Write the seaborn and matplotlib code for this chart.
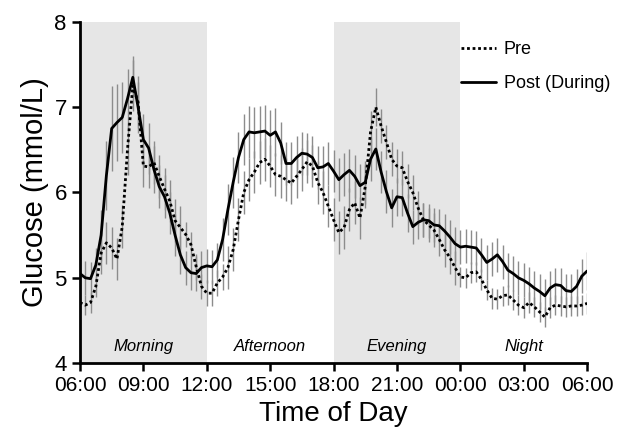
import numpy as np
import pandas as pd
import matplotlib
matplotlib.use("Agg")
import matplotlib.pyplot as plt
import seaborn as sns

# hours after 06:00, 15-min readings (06:00 -> 06:00 next day)
hours = np.arange(97) * 0.25

post_mean = [5.05, 5.00, 4.99, 5.15, 5.50, 6.20, 6.75, 6.82, 6.88, 7.10, 7.35, 7.00,
             6.62, 6.52, 6.27, 6.07, 5.95, 5.76, 5.50, 5.27, 5.12, 5.06, 5.05, 5.12,
             5.14, 5.13, 5.21, 5.45, 5.80, 6.12, 6.41, 6.62, 6.71, 6.70, 6.71, 6.72,
             6.67, 6.71, 6.58, 6.34, 6.34, 6.41, 6.46, 6.45, 6.41, 6.29, 6.30, 6.34,
             6.25, 6.15, 6.21, 6.26, 6.19, 6.08, 6.12, 6.39, 6.51, 6.24, 6.01, 5.82,
             5.95, 5.94, 5.76, 5.60, 5.65, 5.68, 5.67, 5.62, 5.61, 5.55, 5.48, 5.40,
             5.36, 5.37, 5.36, 5.35, 5.27, 5.18, 5.22, 5.27, 5.19, 5.09, 5.05, 5.00,
             4.97, 4.93, 4.88, 4.84, 4.79, 4.88, 4.92, 4.91, 4.85, 4.84, 4.90, 5.02,
             5.08]
post_sem = [0.20, 0.20, 0.20, 0.20, 0.30, 0.40, 0.50, 0.45, 0.42, 0.35, 0.25, 0.30,
            0.30, 0.30, 0.28, 0.25, 0.25, 0.25, 0.25, 0.22, 0.20, 0.20, 0.20, 0.20,
            0.20, 0.20, 0.20, 0.25, 0.30, 0.30, 0.30, 0.30, 0.30, 0.30, 0.30, 0.30,
            0.30, 0.28, 0.25, 0.25, 0.25, 0.25, 0.25, 0.25, 0.25, 0.25, 0.25, 0.25,
            0.25, 0.25, 0.25, 0.25, 0.25, 0.25, 0.25, 0.25, 0.25, 0.25, 0.25, 0.22,
            0.22, 0.22, 0.22, 0.20, 0.20, 0.20, 0.20, 0.20, 0.20, 0.20, 0.20, 0.20,
            0.20, 0.20, 0.20, 0.20, 0.20, 0.20, 0.20, 0.20, 0.20, 0.20, 0.20, 0.20,
            0.20, 0.20, 0.20, 0.20, 0.20, 0.20, 0.20, 0.20, 0.20, 0.20, 0.20, 0.20,
            0.22]

pre_mean = [4.71, 4.68, 4.71, 4.90, 5.29, 5.41, 5.35, 5.22, 5.60, 6.51, 7.25, 7.06,
            6.31, 6.30, 6.35, 6.19, 6.04, 5.90, 5.67, 5.59, 5.51, 5.39, 5.13, 4.90,
            4.82, 4.82, 4.94, 5.01, 5.12, 5.33, 5.68, 6.00, 6.15, 6.24, 6.35, 6.39,
            6.31, 6.21, 6.19, 6.15, 6.11, 6.19, 6.27, 6.36, 6.31, 6.12, 6.00, 5.84,
            5.68, 5.53, 5.59, 5.80, 5.88, 5.70, 6.07, 6.71, 7.00, 6.78, 6.59, 6.39,
            6.31, 6.29, 6.13, 6.00, 5.82, 5.68, 5.62, 5.56, 5.45, 5.33, 5.24, 5.12,
            5.01, 5.00, 5.06, 5.07, 4.98, 4.86, 4.76, 4.75, 4.79, 4.80, 4.74, 4.68,
            4.65, 4.71, 4.66, 4.60, 4.54, 4.65, 4.68, 4.67, 4.66, 4.67, 4.67, 4.68,
            4.70]
pre_sem = [0.12, 0.12, 0.12, 0.12, 0.25, 0.25, 0.25, 0.25, 0.25, 0.30, 0.30, 0.30,
           0.25, 0.25, 0.25, 0.25, 0.25, 0.25, 0.25, 0.25, 0.15, 0.15, 0.15, 0.15,
           0.15, 0.15, 0.15, 0.15, 0.25, 0.25, 0.25, 0.25, 0.25, 0.25, 0.25, 0.25,
           0.25, 0.25, 0.25, 0.25, 0.25, 0.25, 0.25, 0.25, 0.25, 0.25, 0.25, 0.25,
           0.25, 0.25, 0.25, 0.25, 0.25, 0.25, 0.25, 0.25, 0.22, 0.20, 0.20, 0.20,
           0.20, 0.20, 0.20, 0.20, 0.20, 0.20, 0.20, 0.20, 0.20, 0.20, 0.20, 0.20,
           0.12, 0.12, 0.12, 0.12, 0.12, 0.12, 0.12, 0.12, 0.12, 0.12, 0.12, 0.12,
           0.12, 0.12, 0.12, 0.12, 0.12, 0.12, 0.12, 0.12, 0.12, 0.12, 0.12, 0.12,
           0.12]

tick_hours = [0, 3, 6, 9, 12, 15, 18, 21, 24]
tick_labels = ['06:00', '09:00', '12:00', '15:00', '18:00', '21:00', '00:00', '03:00', '06:00']
periods = ['Morning', 'Afternoon', 'Evening', 'Night']
period_starts = [0, 6, 12, 18]

df = pd.DataFrame({
    'hour': np.concatenate([hours, hours]),
    'glucose': post_mean + pre_mean,
    'sem': post_sem + pre_sem,
    'group': ['Post (During)'] * len(hours) + ['Pre'] * len(hours),
})

sns.set_style("ticks")
plt.rcParams['font.family'] = ['Liberation Sans', 'DejaVu Sans']
plt.rcParams.update({'text.color': 'black', 'axes.labelcolor': 'black',
                     'xtick.color': 'black', 'ytick.color': 'black'})

fig = plt.figure(figsize=(6.2, 4.37), dpi=100)
ax = fig.add_axes([0.129, 0.169, 0.818, 0.781])

# shaded periods
for start in [0, 12]:
    ax.axvspan(start, start + 6, color='#e6e6e6', lw=0, zorder=0)

# error bars (grey, no caps)
for grp in ['Pre', 'Post (During)']:
    d = df[df['group'] == grp]
    ax.errorbar(d['hour'], d['glucose'], yerr=d['sem'], fmt='none',
                ecolor='#8c8c8c', elinewidth=1, capsize=0, zorder=2)

sns.lineplot(data=df, x='hour', y='glucose', hue='group', style='group',
             hue_order=['Pre', 'Post (During)'], style_order=['Pre', 'Post (During)'],
             palette=['black', 'black'], dashes={'Pre': (1, 1), 'Post (During)': ''},
             linewidth=2, ax=ax, zorder=3)

for name, start in zip(periods, period_starts):
    ax.text(start + 3, 4.2, name, ha='center', va='center', style='italic', fontsize=12)

ax.set_xlim(0, 24)
ax.set_ylim(4, 8)
ax.set_xticks(tick_hours)
ax.set_xticklabels(tick_labels)
ax.set_yticks([4, 5, 6, 7, 8])
ax.tick_params(axis='x', labelsize=15, width=1.8, length=6, color='black')
ax.tick_params(axis='y', labelsize=16, width=1.8, length=6, color='black')
ax.set_xlabel('Time of Day', fontsize=20)
ax.set_ylabel('Glucose (mmol/L)', fontsize=21)
for side in ['left', 'bottom']:
    ax.spines[side].set_linewidth(2)
    ax.spines[side].set_color('black')
sns.despine(ax=ax)

ax.legend(title=None, frameon=False, loc='upper left', bbox_to_anchor=(0.745, 0.955),
          borderaxespad=0, borderpad=0.2, fontsize=13, labelspacing=0.95,
          handlelength=1.9, handletextpad=0.45)

fig.savefig('out.png', dpi=100)
